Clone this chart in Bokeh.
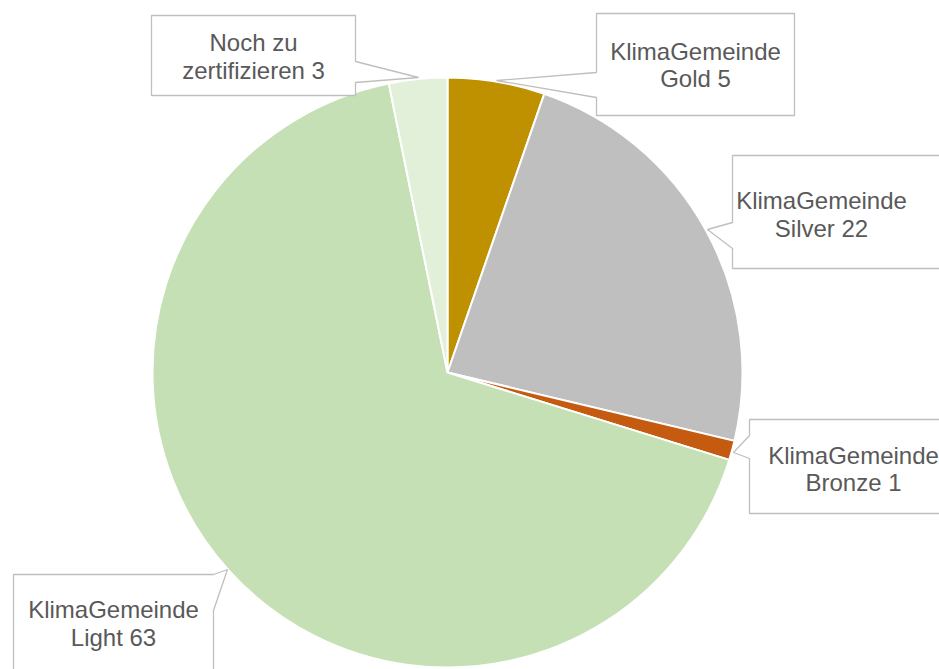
import math
from bokeh.plotting import figure
from bokeh.models import Range1d, ColumnDataSource
from bokeh.core.properties import value
from bokeh.embed import file_html
from bokeh.resources import INLINE

# ---- data ----
categories = ["KlimaGemeinde Gold", "KlimaGemeinde Silver", "KlimaGemeinde Bronze",
              "KlimaGemeinde Light", "Noch zu zertifizieren"]
values = [5, 22, 1, 63, 3]
label_line1 = ["KlimaGemeinde", "KlimaGemeinde", "KlimaGemeinde", "KlimaGemeinde", "Noch zu"]
label_line2 = ["Gold", "Silver", "Bronze", "Light", "zertifizieren"]
colors = ["#BF9000", "#BFBFBF", "#C55A11", "#C5E0B4", "#E2F0D9"]

W, H = 939, 669
CX, CY, R = 447, 372, 295  # pie centre / radius in image pixels

def fy(y):
    return H - y

p = figure(width=W, height=H, output_backend="svg", toolbar_location=None,
           x_range=Range1d(0, W), y_range=Range1d(0, H),
           x_axis_location=None, y_axis_location=None, min_border=0)
p.grid.visible = False
p.outline_line_color = None
p.background_fill_color = "white"
p.border_fill_color = "white"

# wedges: clockwise starting at 12 o'clock
total = sum(values)
starts, ends = [], []
cum = 0.0
for v in values:
    a0 = math.pi / 2 - 2 * math.pi * cum / total
    cum += v
    a1 = math.pi / 2 - 2 * math.pi * cum / total
    starts.append(a0)
    ends.append(a1)

src = ColumnDataSource(dict(x=[CX] * len(values), y=[fy(CY)] * len(values),
                            start=starts, end=ends, color=colors))
p.wedge(x="x", y="y", radius=R, start_angle="start", end_angle="end",
        direction="clock", fill_color="color", line_color="white", line_width=2,
        source=src)

# ---- callout layout (image pixel positions) ----
boxes = [
    [(596, 13), (794, 13), (794, 115), (596, 115), (596, 97), (496, 80), (596, 72)],
    [(732, 155), (945, 155), (945, 268), (732, 268), (732, 248), (707, 229), (732, 222)],
    [(749, 419), (945, 419), (945, 513), (749, 513), (749, 458), (733, 452), (749, 435)],
    [(13, 574), (213, 574), (227, 569), (213, 610), (213, 680), (13, 680)],
    [(151, 15), (355, 15), (355, 61), (418, 77), (355, 82), (355, 95), (151, 95)],
]
text_x = [695, 821, 853, 113, 253]
text_mid1 = [51, 200, 455, 609, 42]
text_mid2 = [78, 228, 482, 637, 70]

p.patches(xs=[[pt[0] for pt in b] for b in boxes],
          ys=[[fy(pt[1]) for pt in b] for b in boxes],
          fill_color="white", line_color="#BFBFBF", line_width=1.3)

l1 = list(label_line1)
l2 = [f"{a} {v}" for a, v in zip(label_line2, values)]
for texts, mids in ((l1, text_mid1), (l2, text_mid2)):
    p.text(x=text_x, y=[fy(m) for m in mids], text=texts,
           text_font=value("Liberation Sans"), text_font_size="24px",
           text_color="#595959", text_align="center", text_baseline="middle")

open("out.html", "w").write(file_html(p, INLINE))
